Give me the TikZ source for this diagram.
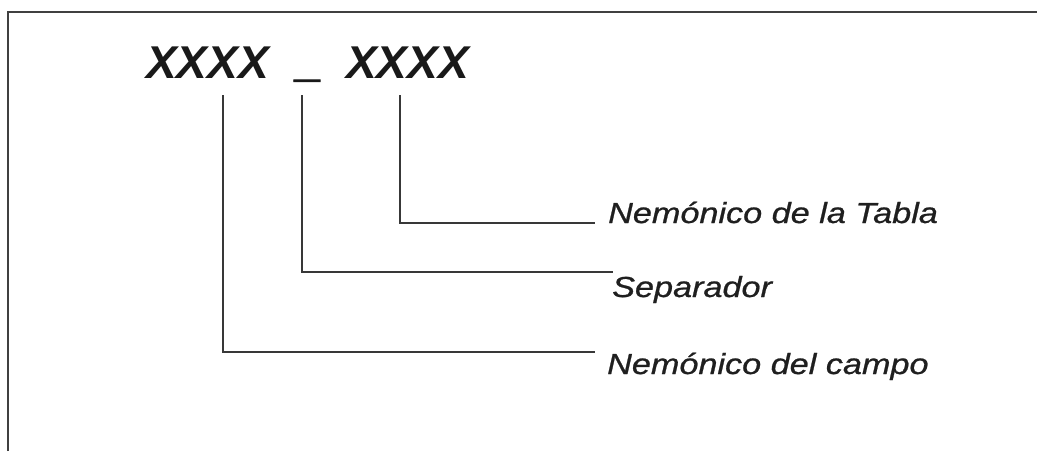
\documentclass[tikz,border=0pt]{standalone}
\usepackage{fontspec}
\newfontfamily\labfont[FakeStretch=1.18,FakeBold=0.8]{Liberation Sans}
\newfontfamily\bigfont{Liberation Sans}
\newfontfamily\usfont[FakeBold=2]{Liberation Sans}
\begin{document}
\begin{tikzpicture}[x=1pt,y=-1pt,
  lab/.style={anchor=base west,inner sep=0pt,text=black!88,font=\labfont\itshape\fontsize{29}{34}\selectfont},
  big/.style={anchor=base west,inner sep=0pt,text=black!90,font=\bigfont\bfseries\itshape\fontsize{46}{52}\selectfont},
  usc/.style={anchor=base west,inner sep=0pt,text=black!90,font=\usfont\bfseries\fontsize{46}{52}\selectfont},
  conn/.style={draw=black!78,line width=1.3pt},
  frame/.style={draw=black!75,line width=1.6pt}]
\useasboundingbox (0,0) rectangle (1037,451);
% frame (top and left edges)
\coordinate (fa) at (8,451);
\coordinate (fb) at (8,12);
\coordinate (fc) at (1037,12);
\draw[frame] (fa) -- (fb) -- (fc);
% code parts
\node[big] (x1) at (146,78) {XXXX};
\node[usc] (us) at (294,76) {\_};
\node[big] (x2) at (346,78) {XXXX};
% labels
\node[lab] (ltab) at (608,223) {Nemónico de la Tabla};
\node[lab] (lsep) at (612,297) {Separador};
\node[lab] (lcam) at (607,374) {Nemónico del campo};
% connector ends
\coordinate (t1) at (223,95);
\coordinate (t2) at (302,95);
\coordinate (t3) at (400,95);
\coordinate (e3) at (595,223);
\coordinate (e2) at (613,272);
\coordinate (e1) at (595,352);
\draw[conn] (t3) |- (e3);
\draw[conn] (t2) |- (e2);
\draw[conn] (t1) |- (e1);
\end{tikzpicture}
\end{document}
